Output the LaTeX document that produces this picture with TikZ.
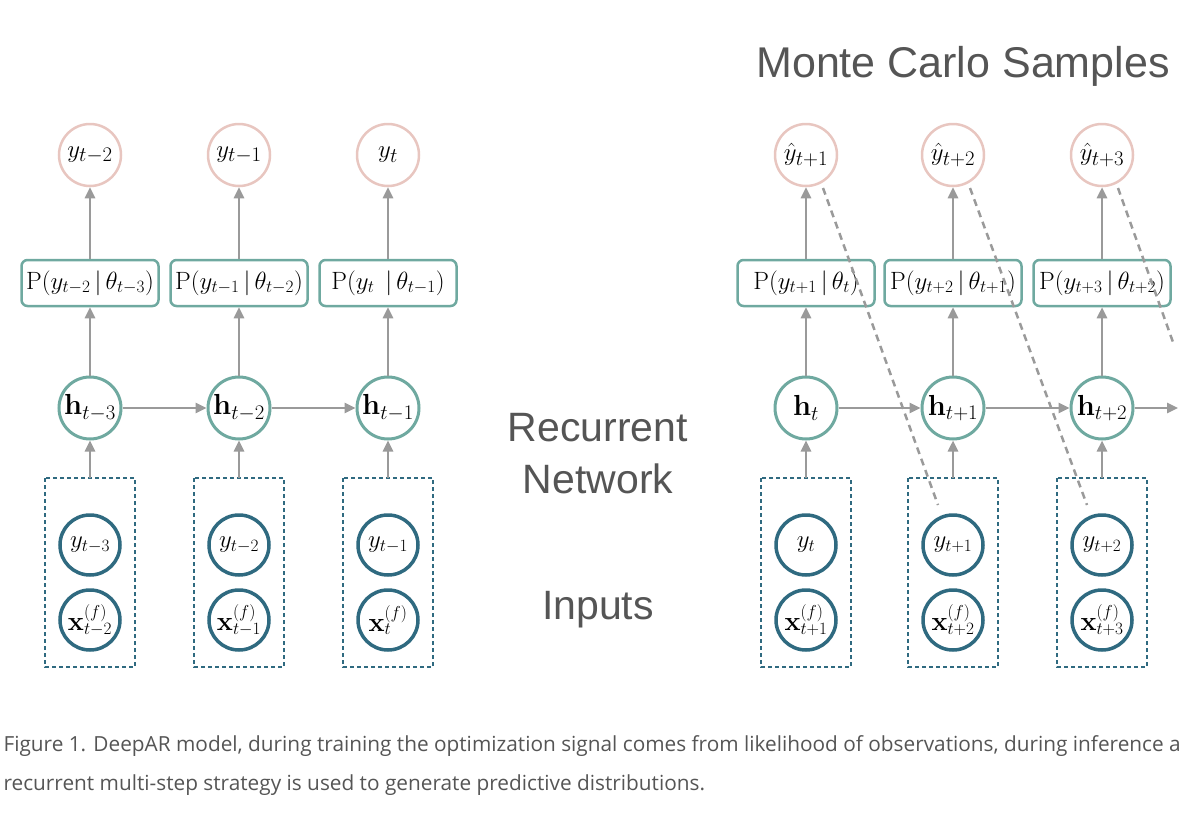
\documentclass[tikz,border=0pt]{standalone}
\usepackage{fontspec}
\setmainfont{Latin Modern Roman}
\newfontfamily\sansf{Liberation Sans}
\newfontfamily\capf{Open Sans}
\usetikzlibrary{arrows.meta}
\definecolor{pinkc}{HTML}{E8C6C0}
\definecolor{tealc}{HTML}{6FA9A0}
\definecolor{darkc}{HTML}{2F6A80}
\definecolor{arr}{HTML}{9A9A9A}
\definecolor{txtg}{HTML}{555555}
\begin{document}
\begin{tikzpicture}[x=1pt,y=-1pt,
 lab/.style={font=\fontsize{29}{32}\selectfont},
 obsc/.style={circle,draw=pinkc,line width=2.5pt,minimum size=62pt,inner sep=0pt,lab},
 hidc/.style={circle,draw=tealc,line width=3pt,minimum size=62pt,inner sep=0pt,lab},
 inpc/.style={circle,draw=darkc,line width=3.5pt,minimum size=60pt,inner sep=0pt,font=\fontsize{27}{30}\selectfont},
 distb/.style={rounded corners=6pt,draw=tealc,line width=2.5pt,minimum width=137pt,minimum height=46pt,inner sep=0pt,font=\fontsize{25}{28}\selectfont},
 grpb/.style={draw=darkc,line width=1.6pt,dash pattern=on 4pt off 3pt},
 arw/.style={draw=arr,line width=2.5pt,-{Triangle[length=11pt,width=10pt]}},
 mcl/.style={draw=arr,line width=2.5pt,dash pattern=on 7pt off 5pt},
 bigt/.style={font=\sansf\fontsize{43}{46}\selectfont,text=txtg,align=center}]
\useasboundingbox (0,0) rectangle (1200,822);
\foreach \i/\x/\o/\p/\h/\yi/\xi in {
 1/90/{y_{t-2}}/{y_{t-2}\,|\,\theta_{t-3}}/{\mathbf{h}_{t-3}}/{y_{t-3}}/{\mathbf{x}^{(f)}_{t-2}},
 2/239/{y_{t-1}}/{y_{t-1}\,|\,\theta_{t-2}}/{\mathbf{h}_{t-2}}/{y_{t-2}}/{\mathbf{x}^{(f)}_{t-1}},
 3/388/{y_{t}}/{y_{t}\;\,|\,\theta_{t-1}}/{\mathbf{h}_{t-1}}/{y_{t-1}}/{\mathbf{x}^{(f)}_{t}},
 4/806/{\hat y_{t+1}}/{y_{t+1}\,|\,\theta_{t}}/{\mathbf{h}_{t}}/{y_{t}}/{\mathbf{x}^{(f)}_{t+1}},
 5/953/{\hat y_{t+2}}/{y_{t+2}\,|\,\theta_{t+1}}/{\mathbf{h}_{t+1}}/{y_{t+1}}/{\mathbf{x}^{(f)}_{t+2}},
 6/1102/{\hat y_{t+3}}/{y_{t+3}\,|\,\theta_{t+2}}/{\mathbf{h}_{t+2}}/{y_{t+2}}/{\mathbf{x}^{(f)}_{t+3}}}{
 \node[obsc] (o\i) at (\x,155) {$\o$};
 \node[distb] (d\i) at (\x,283) {$\mathrm{P}(\p)$};
 \node[hidc] (h\i) at (\x,408) {$\h$};
 \node[inpc] (y\i) at (\x,545) {$\yi$};
 \node[inpc] (x\i) at (\x,620) {$\xi$};
 \draw[grpb] (\x-45,478) rectangle (\x+45,667);
 \coordinate (g\i) at (\x,478);
 \draw[arw] (d\i.north) -- (o\i);
 \draw[arw] (h\i) -- (d\i);
 \draw[arw] (g\i) -- (h\i);
}
\draw[arw] (h1) -- (h2);
\draw[arw] (h2) -- (h3);
\draw[arw] (h4) -- (h5);
\draw[arw] (h5) -- (h6);
\coordinate (hend) at (1178,408);
\draw[arw] (h6) -- (hend);
\coordinate (m1) at (823,188); \coordinate (m1e) at (938,505);
\coordinate (m2) at (970,188); \coordinate (m2e) at (1087,505);
\coordinate (m3) at (1118,188); \coordinate (m3e) at (1174,345);
\draw[mcl] (m1) -- (m1e);
\draw[mcl] (m2) -- (m2e);
\draw[mcl] (m3) -- (m3e);
\node[bigt] (mct) at (963,66) {Monte Carlo Samples};
\node[bigt,font=\sansf\fontsize{41}{52}\selectfont] (rn) at (598,454) {Recurrent\\Network};
\node[bigt,font=\sansf\fontsize{41}{46}\selectfont] (inl) at (598,610) {Inputs};
\node[anchor=west,font=\capf\fontsize{20.8}{39}\selectfont,text=txtg,align=left] (cap) at (0,766)
 {Figure 1. DeepAR model, during training the optimization signal comes from likelihood of observations, during inference a\\recurrent multi-step strategy is used to generate predictive distributions.};
\end{tikzpicture}
\end{document}
